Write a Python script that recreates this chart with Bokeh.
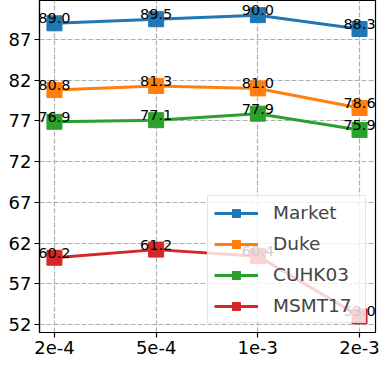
from bokeh.plotting import figure
from bokeh.models import FixedTicker, Legend, LegendItem, ColumnDataSource, Range1d
from bokeh.embed import file_html
from bokeh.resources import INLINE

x_labels = ["2e-4", "5e-4", "1e-3", "2e-3"]
series_names = ["Market", "Duke", "CUHK03", "MSMT17"]
market = [89.0, 89.5, 90.0, 88.3]
duke = [80.8, 81.3, 81.0, 78.6]
cuhk03 = [76.9, 77.1, 77.9, 75.9]
msmt17 = [60.2, 61.2, 60.4, 53.0]
y_ticks = [52, 57, 62, 67, 72, 77, 82, 87]
colors = ["#1f77b4", "#ff7f0e", "#2ca02c", "#d62728"]

xs = list(range(len(x_labels)))

p = figure(width=382, height=366, output_backend="svg", toolbar_location=None,
           x_range=Range1d(-0.147, 3.157), y_range=Range1d(51.02, 91.8),
           min_border_left=39, min_border_right=7, min_border_top=0, min_border_bottom=34)

FONT = "DejaVu Sans"
for ax in (p.xaxis, p.yaxis):
    ax.axis_line_color = "black"
    ax.axis_line_width = 1.2
    ax.major_tick_line_color = "black"
    ax.major_tick_line_width = 1.2
    ax.major_tick_in = 0
    ax.major_tick_out = 5
    ax.minor_tick_line_color = None
    ax.major_label_text_font = FONT
    ax.major_label_text_font_size = "18px"
    ax.major_label_text_color = "black"
    ax.major_label_standoff = 3

p.xaxis.ticker = FixedTicker(ticks=xs)
p.xaxis.major_label_overrides = {i: l for i, l in enumerate(x_labels)}
p.yaxis.ticker = FixedTicker(ticks=y_ticks)

p.outline_line_color = "black"
p.outline_line_width = 1.2
for g in (p.xgrid, p.ygrid):
    g.grid_line_color = "#b0b0b0"
    g.grid_line_dash = "5 2"
    g.grid_line_width = 1.2

items = []
for name, vals, c in zip(series_names, [market, duke, cuhk03, msmt17], colors):
    src = ColumnDataSource(dict(x=xs, y=vals, t=[f"{v:.1f}" for v in vals]))
    r1 = p.line("x", "y", source=src, line_color=c, line_width=3)
    r2 = p.scatter("x", "y", source=src, marker="square", size=15,
                   fill_color=c, line_color=c)
    p.text("x", "y", text="t", source=src, text_align="center", text_baseline="bottom",
           text_font_size="14.5px", text_color="black", text_font={"value": FONT})
    items.append(LegendItem(label=name, renderers=[r1, r2]))

legend = Legend(items=items, location=(168, 9), margin=0,
                background_fill_color="white", background_fill_alpha=0.8,
                border_line_color="#cccccc", border_line_width=1.2,
                label_text_font=FONT, label_text_font_size="18.5px",
                glyph_width=44, glyph_height=20, label_height=20, label_width=86,
                spacing=10, padding=6, label_standoff=15)
p.add_layout(legend)

open("out.html", "w").write(file_html(p, INLINE))
